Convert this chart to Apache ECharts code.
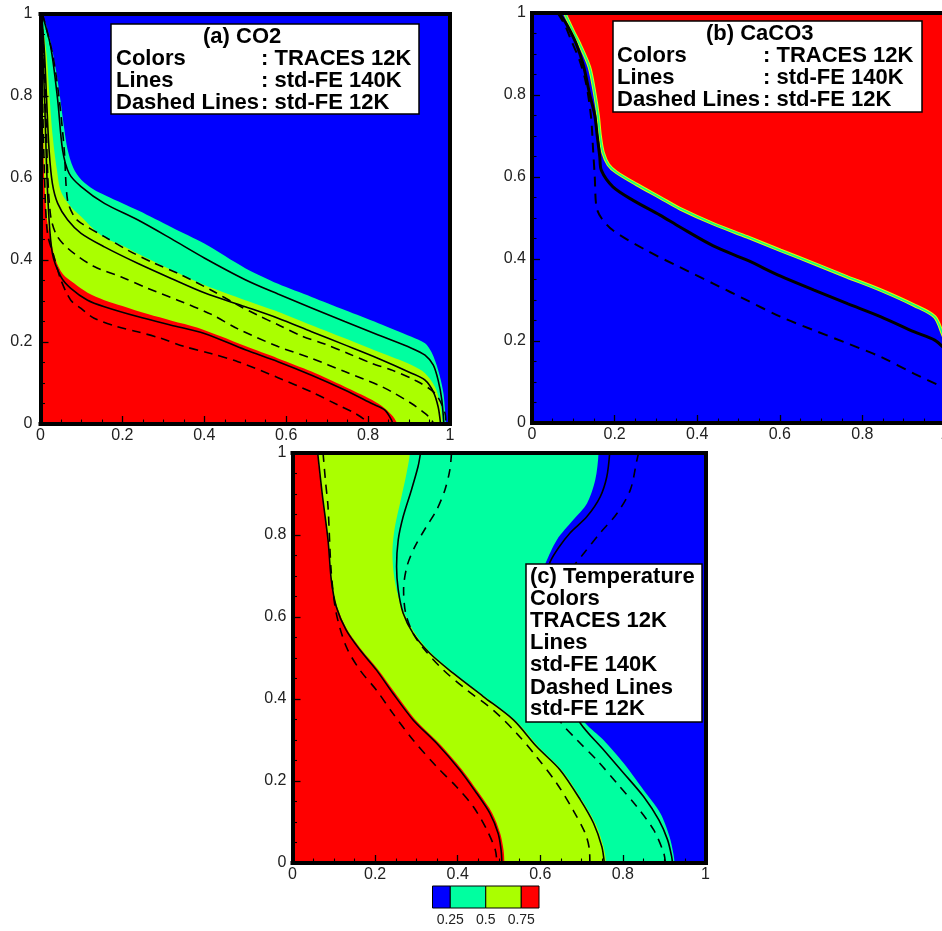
<!DOCTYPE html>
<html><head><meta charset="utf-8">
<script src="https://cdn.jsdelivr.net/npm/echarts@6/dist/echarts.min.js"></script>
<style>html,body{margin:0;padding:0;background:#fff}#c{width:942px;height:931px}</style>
</head><body><div id="c"></div>
<script>
// ---------- Panel (a) CO2 : colour boundaries (TRACES 12K) ----------
const aCyanTop = [[0,1],[0.008,0.99],[0.025,0.93],[0.04,0.85],[0.05,0.78],[0.058,0.72],[0.066,0.67],[0.08,0.625],[0.1,0.595],[0.13,0.572],[0.16,0.557],[0.24,0.52],[0.32,0.48],[0.4,0.44],[0.5,0.38],[0.58,0.342],[0.662,0.31],[0.743,0.278],[0.825,0.246],[0.906,0.213],[0.939,0.197],[0.955,0.175],[0.971,0.132],[0.984,0.075],[0.99,0]];
const aYellowTop = [[0,1],[0.006,0.97],[0.015,0.9],[0.022,0.8],[0.03,0.7],[0.04,0.62],[0.05,0.567],[0.074,0.53],[0.099,0.506],[0.13,0.475],[0.156,0.455],[0.2,0.435],[0.237,0.416],[0.319,0.376],[0.4,0.339],[0.5,0.302],[0.58,0.274],[0.662,0.241],[0.743,0.209],[0.825,0.176],[0.906,0.144],[0.939,0.124],[0.963,0.091],[0.976,0.05],[0.982,0]];
const aRedTop = [[0,1],[0.003,0.95],[0.006,0.75],[0.009,0.6],[0.013,0.53],[0.017,0.49],[0.025,0.449],[0.037,0.4],[0.055,0.365],[0.082,0.343],[0.115,0.32],[0.156,0.302],[0.2,0.288],[0.262,0.268],[0.32,0.252],[0.384,0.235],[0.44,0.214],[0.5,0.19],[0.58,0.16],[0.662,0.128],[0.743,0.091],[0.809,0.059],[0.841,0.038],[0.861,0.018],[0.872,0]];
// std-FE 140K (solid)
const aLine25 = [[0.004,1],[0.025,0.92],[0.042,0.79],[0.054,0.668],[0.07,0.611],[0.099,0.579],[0.156,0.538],[0.237,0.498],[0.319,0.452],[0.4,0.405],[0.5,0.352],[0.58,0.317],[0.662,0.283],[0.743,0.25],[0.825,0.217],[0.906,0.185],[0.939,0.168],[0.959,0.144],[0.971,0.107],[0.98,0.059],[0.985,0]];
const aLine50 = [[0.003,1],[0.01,0.9],[0.015,0.79],[0.021,0.668],[0.029,0.587],[0.042,0.538],[0.066,0.498],[0.099,0.465],[0.156,0.432],[0.237,0.392],[0.319,0.355],[0.4,0.32],[0.5,0.286],[0.58,0.258],[0.662,0.225],[0.743,0.193],[0.825,0.16],[0.906,0.124],[0.939,0.107],[0.959,0.079],[0.971,0.042],[0.977,0]];
const aLine75 = [[0.002,1],[0.006,0.9],[0.01,0.79],[0.018,0.55],[0.029,0.416],[0.05,0.359],[0.074,0.331],[0.115,0.302],[0.156,0.286],[0.237,0.262],[0.319,0.241],[0.4,0.221],[0.5,0.181],[0.58,0.152],[0.662,0.119],[0.743,0.083],[0.809,0.05],[0.841,0.034],[0.857,0.01],[0.86,0]];
// std-FE 12K (dashed)
const aDash25 = [[0.005,1],[0.03,0.9],[0.046,0.79],[0.058,0.668],[0.066,0.546],[0.082,0.506],[0.099,0.49],[0.156,0.457],[0.213,0.424],[0.278,0.392],[0.335,0.368],[0.416,0.327],[0.482,0.29],[0.531,0.265],[0.58,0.242],[0.637,0.215],[0.694,0.195],[0.751,0.172],[0.809,0.148],[0.857,0.132],[0.914,0.107],[0.963,0.075],[0.988,0.026],[0.99,0]];
const aDash50 = [[0.003,1],[0.008,0.9],[0.012,0.8],[0.018,0.6],[0.025,0.506],[0.037,0.465],[0.054,0.441],[0.082,0.416],[0.131,0.384],[0.196,0.359],[0.262,0.331],[0.335,0.302],[0.416,0.268],[0.482,0.232],[0.58,0.189],[0.662,0.16],[0.743,0.128],[0.825,0.095],[0.857,0.079],[0.906,0.05],[0.939,0.026],[0.955,0.01],[0.96,0]];
const aDash75 = [[0.002,1],[0.005,0.8],[0.01,0.6],[0.017,0.465],[0.033,0.408],[0.05,0.351],[0.074,0.302],[0.099,0.282],[0.131,0.258],[0.188,0.237],[0.237,0.225],[0.294,0.209],[0.351,0.189],[0.416,0.172],[0.482,0.152],[0.58,0.113],[0.662,0.078],[0.727,0.046],[0.768,0.026],[0.792,0.01],[0.8,0]];

// ---------- Panel (b) CaCO3 ----------
const bRedEdge = [[0.079,1],[0.1,0.955],[0.115,0.925],[0.139,0.868],[0.152,0.803],[0.16,0.75],[0.165,0.7],[0.172,0.66],[0.185,0.63],[0.204,0.612],[0.253,0.582],[0.31,0.55],[0.358,0.523],[0.439,0.486],[0.521,0.454],[0.602,0.421],[0.683,0.389],[0.764,0.356],[0.845,0.324],[0.926,0.287],[0.975,0.259],[0.995,0.215],[1,0.2]];
const bLine = [[0.066,1],[0.085,0.97],[0.107,0.925],[0.125,0.87],[0.14,0.8],[0.152,0.75],[0.158,0.7],[0.164,0.65],[0.168,0.616],[0.196,0.576],[0.245,0.543],[0.31,0.507],[0.358,0.478],[0.439,0.432],[0.521,0.397],[0.602,0.358],[0.683,0.324],[0.764,0.291],[0.845,0.259],[0.926,0.222],[0.975,0.202],[1,0.18]];
const bDash = [[0.062,1],[0.08,0.97],[0.095,0.933],[0.115,0.885],[0.131,0.828],[0.143,0.746],[0.148,0.665],[0.152,0.6],[0.156,0.527],[0.168,0.5],[0.196,0.47],[0.277,0.421],[0.358,0.38],[0.439,0.34],[0.521,0.299],[0.602,0.259],[0.683,0.226],[0.764,0.194],[0.845,0.161],[0.926,0.12],[1,0.085]];

// ---------- Panel (c) Temperature (curves are x as a function of y) ----------
const cCyanEdge = [[0.741,1],[0.733,0.934],[0.713,0.877],[0.68,0.837],[0.64,0.788],[0.612,0.73],[0.59,0.68],[0.585,0.63],[0.595,0.57],[0.62,0.5],[0.655,0.43],[0.685,0.38],[0.709,0.341],[0.753,0.3],[0.802,0.243],[0.85,0.178],[0.891,0.121],[0.913,0.064],[0.922,0.024],[0.925,0]];
const cYellowEdge = [[0.284,1],[0.276,0.95],[0.262,0.885],[0.248,0.82],[0.242,0.763],[0.245,0.707],[0.256,0.65],[0.275,0.6],[0.3,0.555],[0.34,0.508],[0.396,0.46],[0.47,0.403],[0.542,0.346],[0.598,0.281],[0.654,0.224],[0.702,0.152],[0.734,0.095],[0.753,0.04],[0.759,0]];
const cRedEdge = [[0.061,1],[0.072,0.9],[0.086,0.788],[0.094,0.69],[0.108,0.625],[0.133,0.568],[0.167,0.52],[0.208,0.471],[0.249,0.414],[0.298,0.349],[0.355,0.292],[0.411,0.227],[0.452,0.17],[0.484,0.121],[0.503,0.072],[0.511,0.032],[0.513,0]];
const cLine25 = [[0.768,1],[0.761,0.942],[0.745,0.893],[0.713,0.845],[0.672,0.805],[0.645,0.77],[0.624,0.735],[0.61,0.69],[0.605,0.64],[0.612,0.58],[0.632,0.51],[0.66,0.44],[0.685,0.38],[0.697,0.341],[0.753,0.276],[0.802,0.219],[0.85,0.162],[0.887,0.105],[0.908,0.057],[0.918,0.016],[0.92,0]];
const cLine50 = [[0.31,1],[0.304,0.967],[0.288,0.91],[0.268,0.845],[0.256,0.788],[0.252,0.723],[0.256,0.666],[0.268,0.609],[0.292,0.56],[0.333,0.511],[0.389,0.463],[0.462,0.406],[0.535,0.349],[0.591,0.284],[0.648,0.227],[0.697,0.154],[0.729,0.097],[0.749,0.04],[0.755,0]];
const cLine75 = [[0.061,1],[0.072,0.9],[0.086,0.788],[0.094,0.69],[0.106,0.625],[0.13,0.568],[0.163,0.52],[0.203,0.471],[0.243,0.414],[0.292,0.349],[0.349,0.292],[0.405,0.227],[0.446,0.17],[0.478,0.121],[0.498,0.072],[0.505,0.032],[0.507,0]];
const cDash25 = [[0.838,1],[0.834,0.983],[0.818,0.91],[0.786,0.853],[0.745,0.805],[0.705,0.755],[0.68,0.723],[0.655,0.68],[0.635,0.62],[0.625,0.56],[0.622,0.5],[0.625,0.44],[0.635,0.39],[0.648,0.346],[0.689,0.3],[0.737,0.251],[0.786,0.194],[0.834,0.137],[0.875,0.08],[0.899,0.024],[0.903,0]];
const cDash50 = [[0.385,1],[0.381,0.959],[0.369,0.91],[0.349,0.861],[0.324,0.82],[0.296,0.771],[0.277,0.723],[0.269,0.666],[0.274,0.609],[0.292,0.56],[0.32,0.52],[0.365,0.471],[0.422,0.422],[0.486,0.373],[0.543,0.316],[0.591,0.259],[0.64,0.194],[0.68,0.128],[0.709,0.072],[0.719,0.032],[0.72,0]];
const cDash75 = [[0.074,1],[0.08,0.93],[0.086,0.869],[0.094,0.707],[0.106,0.609],[0.13,0.528],[0.163,0.471],[0.203,0.422],[0.243,0.365],[0.292,0.3],[0.349,0.235],[0.397,0.186],[0.438,0.137],[0.471,0.08],[0.491,0.032],[0.495,0]];

// ---------- Colour bar ----------
const legendEdges = [0.125, 0.25, 0.5, 0.75, 0.875];
const legendTicks = [0.25, 0.5, 0.75];

// ---------- Styles ----------
const BLUE = '#0000ff', CYAN = '#00ffa0', YELLOW = '#aaff00', RED = '#ff0000';
const legendColors = [BLUE, CYAN, YELLOW, RED];
const FONT = '"Liberation Sans", Arial, Helvetica, sans-serif';
const BOXFONT = 'bold 22px "Liberation Sans", Arial, Helvetica, sans-serif';

const grid = [], xAxis = [], yAxis = [], series = [];
function panel(pos, bg, ylm) {
  const gi = grid.length;
  grid.push(Object.assign({show: true, backgroundColor: bg, borderWidth: 0, containLabel: false, outerBoundsMode: 'none'}, pos));
  function frame() { return {show: true, onZero: false, lineStyle: {color: '#000', width: 4, cap: 'square'}}; }
  function common() { return {gridIndex: gi, type: 'value', min: 0, max: 1, interval: 0.2, z: 5, splitLine: {show: false}}; }
  function lab(m) { return {show: true, margin: m, color: '#222', fontSize: 16, fontFamily: FONT}; }
  function tick() { return {show: true, inside: true, length: 8, lineStyle: {color: '#000', width: 1.3}}; }
  function minor() { return {show: true, splitNumber: 4, length: 4.5, lineStyle: {color: '#000', width: 1.1}}; }
  const xi = xAxis.length, yi = yAxis.length;
  xAxis.push(Object.assign(common(), {position: 'bottom', axisLine: frame(), axisTick: tick(), minorTick: minor(), axisLabel: lab(4)}));
  xAxis.push(Object.assign(common(), {position: 'top', axisLine: frame(), axisTick: {show: false}, minorTick: {show: false}, axisLabel: {show: false}}));
  yAxis.push(Object.assign(common(), {position: 'left', axisLine: frame(), axisTick: tick(), minorTick: minor(), axisLabel: lab(ylm)}));
  yAxis.push(Object.assign(common(), {position: 'right', axisLine: frame(), axisTick: {show: false}, minorTick: {show: false}, axisLabel: {show: false}}));
  return [xi, yi];
}
const SM = 0.3;
function areaBelow(ix, data, color) {
  series.push({type: 'line', xAxisIndex: ix[0], yAxisIndex: ix[1], data: data, smooth: SM, symbol: 'none', silent: true,
    lineStyle: {width: 0}, areaStyle: {color: color, opacity: 1}, z: 2});
}
function curve(ix, data, color, width, dash) {
  series.push({type: 'line', xAxisIndex: ix[0], yAxisIndex: ix[1], data: data, smooth: SM, symbol: 'none', silent: true,
    lineStyle: {color: color, width: width, type: dash || 'solid'}, z: 3});
}
function areaLeft(ix, data, color) {
  series.push({type: 'custom', xAxisIndex: ix[0], yAxisIndex: ix[1], silent: true, clip: true, z: 2, data: [[0, 0]],
    renderItem: function (params, api) {
      const pts = data.map(function (p) { return api.coord(p); });
      const edge = api.coord([0, 0])[0];
      const f = pts[0], l = pts[pts.length - 1], pad = 40;
      const points = pts.concat([[l[0], l[1] + pad], [edge - pad, l[1] + pad], [edge - pad, f[1] - pad], [f[0], f[1] - pad]]);
      return {type: 'polygon', shape: {points: points, smooth: SM}, style: {fill: color}};
    }});
}

// Panel (a)
const A = panel({left: 40.5, top: 14, width: 409.5, height: 410}, BLUE, 8);
areaBelow(A, aCyanTop, CYAN);
areaBelow(A, aYellowTop, YELLOW);
areaBelow(A, aRedTop, RED);
[aLine25, aLine50, aLine75].forEach(function (d) { curve(A, d, '#000', 1.6); });
[aDash25, aDash50, aDash75].forEach(function (d) { curve(A, d, '#000', 1.6, [9, 6]); });

// Panel (b)
const B = panel({left: 532, top: 13, width: 413, height: 410}, RED, 6);
curve(B, bRedEdge, '#ddff00', 3.5);
areaBelow(B, [[0, 1]].concat(bRedEdge), BLUE);
curve(B, bRedEdge, '#10ff80', 1.6);
curve(B, bLine, '#000', 3);
curve(B, bDash, '#000', 2, [10, 7]);

// Panel (c)
const C = panel({left: 292.5, top: 453, width: 413, height: 410}, BLUE, 6);
areaLeft(C, cCyanEdge, CYAN);
areaLeft(C, cYellowEdge, YELLOW);
areaLeft(C, cRedEdge, RED);
[cLine25, cLine50, cLine75].forEach(function (d) { curve(C, d, '#000', 1.6); });
[cDash25, cDash50, cDash75].forEach(function (d) { curve(C, d, '#000', 1.6, [9, 7]); });

// Colour bar
const gL = grid.length;
grid.push({left: 432.5, top: 886, width: 106.5, height: 22, show: false, containLabel: false, outerBoundsMode: 'none'});
const LX = xAxis.length, LY = yAxis.length;
xAxis.push({gridIndex: gL, type: 'value', min: legendEdges[0], max: legendEdges[legendEdges.length - 1],
  axisLine: {show: false}, axisTick: {show: false}, splitLine: {show: false},
  axisLabel: {show: true, customValues: legendTicks, margin: 5, color: '#222', fontSize: 14, fontFamily: FONT}});
yAxis.push({gridIndex: gL, type: 'value', min: 0, max: 1, show: false});
series.push({type: 'custom', xAxisIndex: LX, yAxisIndex: LY, silent: true, z: 4,
  data: legendColors.map(function (c, i) { return [legendEdges[i], legendEdges[i + 1], i]; }),
  renderItem: function (params, api) {
    const p0 = api.coord([api.value(0), 0]);
    const p1 = api.coord([api.value(1), 1]);
    return {type: 'rect', shape: {x: p0[0], y: p1[1], width: p1[0] - p0[0], height: p0[1] - p1[1]},
      style: {fill: legendColors[api.value(2)], stroke: '#000', lineWidth: 1}};
  }});

// Annotation boxes
function txt(x, y, t) { return {type: 'text', x: x, y: y, z: 101, style: {text: t, font: BOXFONT, fill: '#000', verticalAlign: 'middle'}}; }
function box(x, y, w, h) { return {type: 'rect', z: 100, shape: {x: x, y: y, width: w, height: h}, style: {fill: '#fff', stroke: '#000', lineWidth: 1.5}}; }
const graphic = [
  box(111, 24, 308, 90),
  txt(203, 37, '(a) CO2'),
  txt(116, 59, 'Colors'), txt(261, 59, ': TRACES 12K'),
  txt(116, 81, 'Lines'), txt(261, 81, ': std-FE 140K'),
  txt(116, 103, 'Dashed Lines'), txt(261, 103, ': std-FE 12K'),
  box(613, 21, 309, 91),
  txt(706, 34, '(b) CaCO3'),
  txt(617, 56, 'Colors'), txt(763, 56, ': TRACES 12K'),
  txt(617, 78, 'Lines'), txt(763, 78, ': std-FE 140K'),
  txt(617, 100, 'Dashed Lines'), txt(763, 100, ': std-FE 12K'),
  box(526, 564, 176, 158),
  txt(530, 577, '(c) Temperature'),
  txt(530, 599, 'Colors'),
  txt(530, 621, 'TRACES 12K'),
  txt(530, 643, 'Lines'),
  txt(530, 665, 'std-FE 140K'),
  txt(530, 688, 'Dashed Lines'),
  txt(530, 709, 'std-FE 12K')
];

const chart = echarts.init(document.getElementById('c'), null, {renderer: 'canvas'});
chart.setOption({animation: false, backgroundColor: '#fff', grid: grid, xAxis: xAxis, yAxis: yAxis, series: series, graphic: graphic});
</script></body></html>
